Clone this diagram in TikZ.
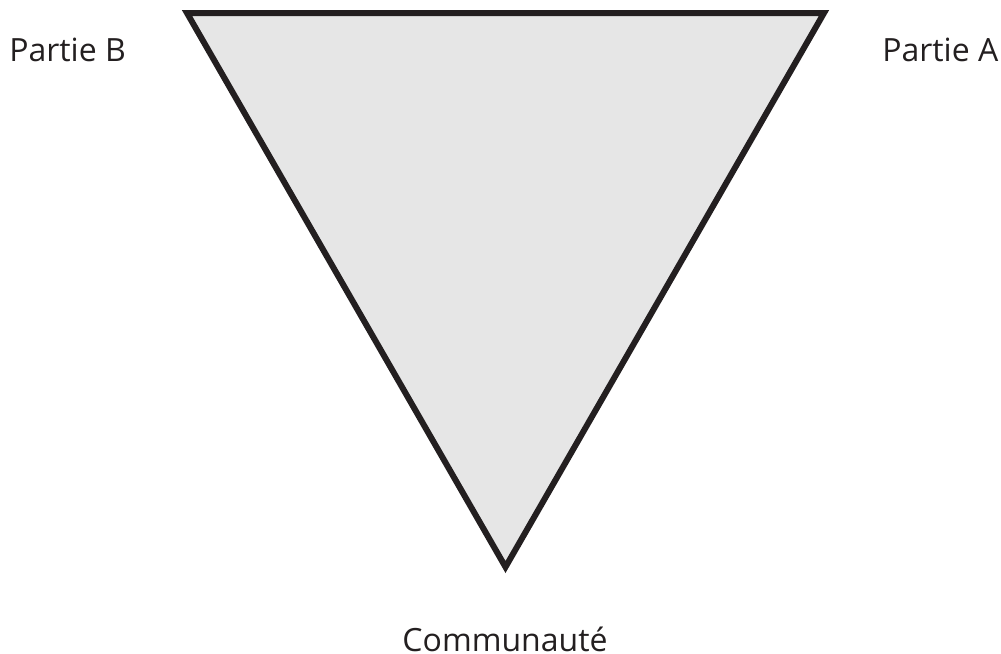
\documentclass[tikz,border=0pt]{standalone}
\usepackage{fontspec}
\setmainfont{Open Sans}
\usetikzlibrary{positioning,calc}
\definecolor{edge}{HTML}{231F20}
\definecolor{lightgray}{HTML}{E6E6E6}
\begin{document}
\begin{tikzpicture}[x=0.75pt,y=-0.75pt,every node/.style={font=\fontsize{24}{28}\selectfont,inner sep=0pt,text=edge}]
\useasboundingbox (0,0) rectangle (1001,654);
\coordinate (left) at (187,13);
\coordinate (right) at (824,13);
\coordinate (bottom) at (505.5,567);
\draw[draw=edge,fill=lightgray,line width=4.5pt,miter limit=10] (left)--(right)--(bottom)--cycle;
\node[anchor=base west] (partB) at (9,61) {Partie B};
\node[anchor=base west] (partA) at (882,61) {Partie A};
\node[anchor=base] (comm) at (505,651) {Communauté};
\end{tikzpicture}
\end{document}
